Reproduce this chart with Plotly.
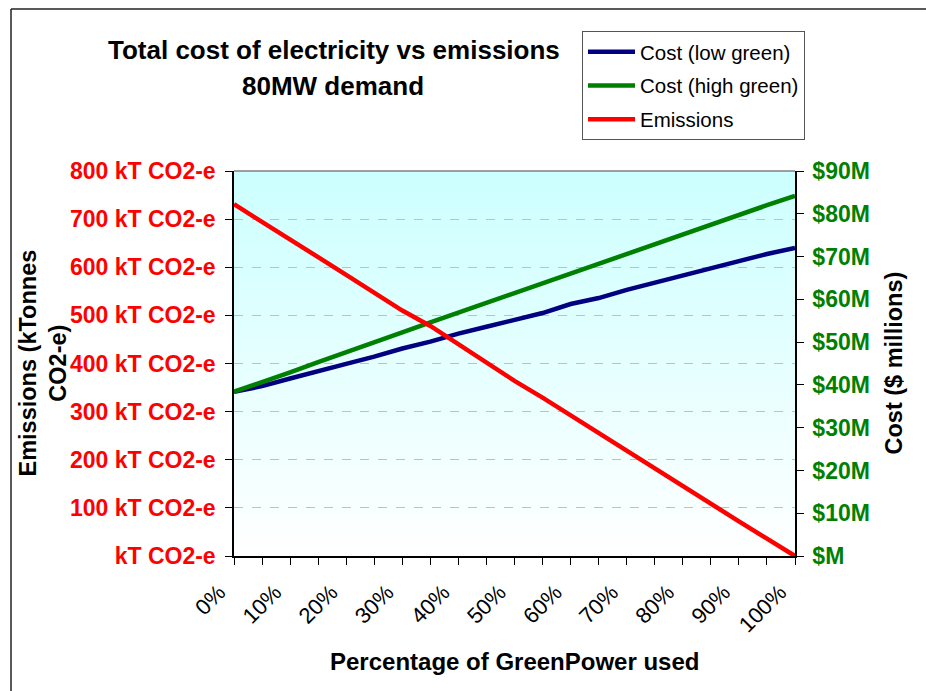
import plotly.graph_objects as go

# ---------------- data ----------------
pct = [0, 5, 10, 15, 20, 25, 30, 35, 40, 45, 50, 55, 60, 65, 70, 75, 80, 85, 90, 95, 100]
pct_tick_text = ["0%", "", "10%", "", "20%", "", "30%", "", "40%", "", "50%",
                 "", "60%", "", "70%", "", "80%", "", "90%", "", "100%"]

cost_low_green = [38.4, 39.7, 41.5, 43.1, 44.9, 46.6, 48.5, 50.1, 52.0, 53.6, 55.3,
                  56.8, 58.9, 60.3, 62.2, 63.9, 65.4, 67.3, 68.9, 70.6, 72.0]
cost_high_green = [38.4, 40.6, 42.9, 45.3, 47.7, 50.0, 52.3, 54.6, 56.9, 59.2, 61.3,
                   63.7, 66.0, 68.3, 70.6, 72.9, 75.2, 77.5, 79.8, 82.0, 84.2]
emissions = [731, 695, 658, 621, 584, 546, 510, 478, 440, 400, 364,
             329, 292, 255, 218, 181, 144, 108, 72, 36, 0]

emis_tick_vals = [0, 100, 200, 300, 400, 500, 600, 700, 800]
emis_tick_text = ["kT CO2-e", "100 kT CO2-e", "200 kT CO2-e", "300 kT CO2-e", "400 kT CO2-e",
                  "500 kT CO2-e", "600 kT CO2-e", "700 kT CO2-e", "800 kT CO2-e"]
cost_tick_vals = [0, 10, 20, 30, 40, 50, 60, 70, 80, 90]
cost_tick_text = ["$M", "$10M", "$20M", "$30M", "$40M", "$50M", "$60M", "$70M", "$80M", "$90M"]

series_names = ["Cost (low green)", "Cost (high green)", "Emissions"]
series_colors = ["#000080", "#008000", "#FF0000"]

# ---------------- styling ----------------
FONT = "Liberation Sans, Arial, sans-serif"
W, H = 926, 691
ML, MR, MT, MB = 234, 131, 171, 135
PW, PH = W - ML - MR, H - MT - MB


def px_x(p):
    return (p - ML) / PW


def px_y(p):
    return (H - MB - p) / PH


fig = go.Figure()

fig.add_trace(go.Scatter(x=pct, y=cost_low_green, name=series_names[0], mode="lines",
                         line=dict(color=series_colors[0], width=4.5), yaxis="y",
                         legendgroup="a"))
fig.add_trace(go.Scatter(x=pct, y=cost_high_green, name=series_names[1], mode="lines",
                         line=dict(color=series_colors[1], width=4.5), yaxis="y",
                         legendgroup="b"))
fig.add_trace(go.Scatter(x=pct, y=emissions, name=series_names[2], mode="lines",
                         line=dict(color=series_colors[2], width=4.5), yaxis="y2",
                         legendgroup="c"))

# gradient background (light cyan at top -> white at bottom), drawn below gridlines
shapes = []
n_strips = 80
top_rgb = (204, 255, 255)
bot_rgb = (255, 255, 255)
for i in range(n_strips):
    t = (i + 0.5) / n_strips
    c = tuple(round(bot_rgb[k] + (top_rgb[k] - bot_rgb[k]) * t) for k in range(3))
    shapes.append(dict(type="rect", xref="paper", yref="paper", layer="below",
                       x0=0, x1=1, y0=i / n_strips, y1=min(1, (i + 1.6) / n_strips),
                       line=dict(width=0), fillcolor="rgb(%d,%d,%d)" % c))
# plot-area top border (gray)
shapes.append(dict(type="line", xref="paper", yref="paper", x0=0, x1=1, y0=1, y1=1,
                   line=dict(color="#808080", width=1.5), layer="above"))
# outer chart border (left and top visible)
shapes.append(dict(type="line", xref="paper", yref="paper", x0=px_x(11), x1=px_x(11),
                   y0=px_y(700), y1=px_y(9), line=dict(color="#222222", width=1.5)))
shapes.append(dict(type="line", xref="paper", yref="paper", x0=px_x(11), x1=px_x(940),
                   y0=px_y(9), y1=px_y(9), line=dict(color="#222222", width=1.5)))

annotations = [
    dict(text="<b>Total cost of electricity vs emissions</b>", xref="paper", yref="paper",
         x=px_x(334), y=px_y(50), xanchor="center", yanchor="middle", showarrow=False,
         font=dict(family=FONT, size=26, color="black")),
    dict(text="<b>80MW demand</b>", xref="paper", yref="paper",
         x=px_x(333), y=px_y(86), xanchor="center", yanchor="middle", showarrow=False,
         font=dict(family=FONT, size=26, color="black")),
    dict(text="<b>Emissions (kTonnes<br>CO2-e)</b>", xref="paper", yref="paper",
         x=px_x(43), y=0.5, xanchor="center", yanchor="middle", showarrow=False,
         textangle=-90, font=dict(family=FONT, size=23.5, color="black")),
    dict(text="<b>Cost ($ millions)</b>", xref="paper", yref="paper",
         x=px_x(893), y=0.5, xanchor="center", yanchor="middle", showarrow=False,
         textangle=-90, font=dict(family=FONT, size=23.5, color="black")),
    dict(text="<b>Percentage of GreenPower used</b>", xref="paper", yref="paper",
         x=0.5, y=px_y(661), xanchor="center", yanchor="middle", showarrow=False,
         font=dict(family=FONT, size=24, color="black")),
]

fig.update_layout(
    width=W, height=H, autosize=False,
    margin=dict(l=ML, r=MR, t=MT, b=MB, pad=0),
    paper_bgcolor="white", plot_bgcolor="white",
    font=dict(family=FONT, color="black"),
    showlegend=True,
    legend=dict(x=px_x(582), y=px_y(31), xanchor="left", yanchor="top",
                bgcolor="white", bordercolor="#555555", borderwidth=1,
                font=dict(family=FONT, size=20.5, color="black"),
                itemwidth=47,
                tracegroupgap=4, traceorder="grouped"),
    xaxis=dict(range=[0, 100], tickmode="array", tickvals=pct, ticktext=pct_tick_text,
               tickangle=-45, ticks="outside", ticklen=7, tickcolor="black",
               showline=True, linecolor="black", linewidth=1.5,
               showgrid=False, zeroline=False, ticklabelstandoff=6,
               ticklabelshift=-15,
               tickfont=dict(family=FONT, size=22, color="black")),
    yaxis=dict(range=[0, 90], side="right", tickmode="array", tickvals=cost_tick_vals,
               ticktext=cost_tick_text, ticks="outside", ticklen=7, tickcolor="black",
               showline=True, linecolor="black", linewidth=1.5,
               showgrid=False, zeroline=False, ticklabelstandoff=4,
               tickfont=dict(family=FONT, size=23, color="#008000", weight="bold")),
    yaxis2=dict(range=[0, 800], side="left", overlaying="y", tickmode="array",
                tickvals=emis_tick_vals, ticktext=emis_tick_text,
                ticks="outside", ticklen=7, tickcolor="black",
                showline=True, linecolor="black", linewidth=1.5,
                showgrid=True, gridcolor="#C0C0C0", griddash="dash", gridwidth=1,
                zeroline=False, ticklabelstandoff=5,
                tickfont=dict(family=FONT, size=23, color="#FF0000", weight="bold")),
    shapes=shapes,
    annotations=annotations,
)

fig.write_html("out.html", config={"displayModeBar": False})
